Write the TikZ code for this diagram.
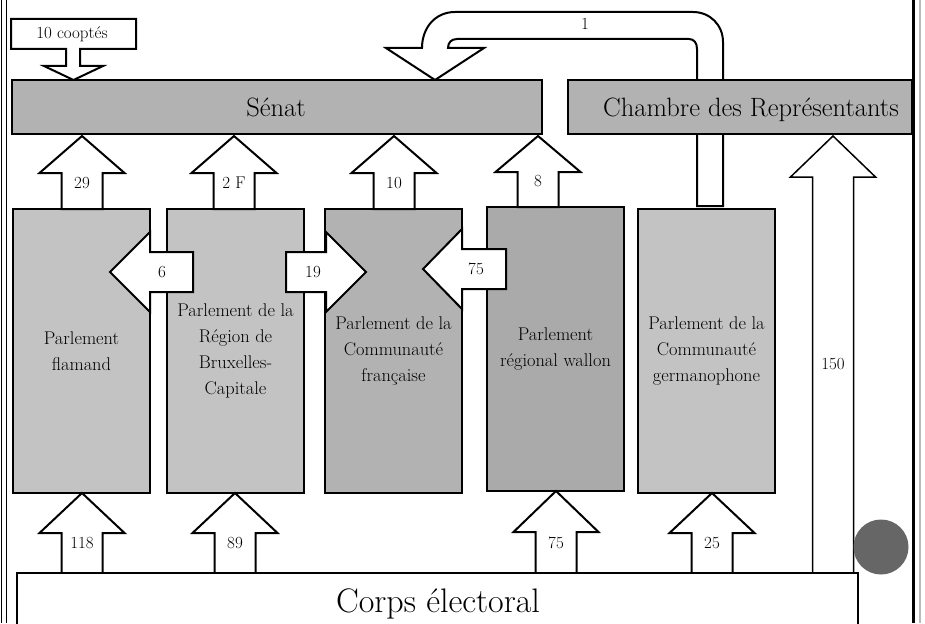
\documentclass[tikz,border=0pt]{standalone}
\usepackage{fontspec}
\definecolor{lightbox}{HTML}{C3C3C3}
\definecolor{midbox}{HTML}{B2B2B2}
\definecolor{darkbox}{HTML}{AAAAAA}
\definecolor{dotgray}{HTML}{666666}
\definecolor{framegray}{HTML}{BBBBBB}
\tikzset{
  panel/.style={draw=black, line width=2pt, inner sep=0pt, outer sep=0pt},
  parl/.style={panel, minimum width=137pt, minimum height=284pt, align=center,
    font=\fontsize{18.4}{26}\selectfont},
  house/.style={panel, minimum height=54pt, fill=midbox},
  houselbl/.style={inner sep=0pt, anchor=base, font=\fontsize{26.5}{30}\selectfont},
  blockarrow/.style={draw=black, line width=2pt, fill=white, line join=miter},
  num/.style={inner sep=0pt, font=\fontsize{17}{19}\selectfont},
}
\newcommand\UpArr[7]{% name, cx, tip y, head base y, bottom y, label, label y
  \draw[blockarrow] (#2,#3) -- (#2+42.5,#4) -- (#2+20.5,#4) -- (#2+20.5,#5)
    -- (#2-20.5,#5) -- (#2-20.5,#4) -- (#2-42.5,#4) -- cycle;
  \node[num] (#1) at (#2,#7) {#6};}
\newcommand\HorArr[7]{% name, tip x, head base x, shaft end x, cy, label, label x
  \draw[blockarrow] (#2,#5) -- (#3,#5-40) -- (#3,#5-20) -- (#4,#5-20)
    -- (#4,#5+20) -- (#3,#5+20) -- (#3,#5+40) -- cycle;
  \node[num] (#1) at (#7,#5) {#6};}
\begin{document}
\begin{tikzpicture}[x=1pt,y=-1pt]
\useasboundingbox (0,0) rectangle (925,623);
\clip (0,0) rectangle (925,623);
\fill[white] (0,0) rectangle (925,623);

% curved arrow "1" from the Chambre to the Senat
\draw[blockarrow] (697,206) -- (697,49) .. controls (697,43) and (694,39) .. (689,39)
  -- (457,39) .. controls (451,39) and (448,43) .. (448,48)
  -- (484,48) -- (435,80) -- (386,48) -- (422,48)
  .. controls (422,28) and (435,12) .. (455,12)
  -- (693,12) .. controls (710,12) and (723,25) .. (723,42) -- (723,206) -- cycle;
\node[num] (one) at (585,24) {1};

% houses
\node[house, minimum width=530pt] (senat) at (277,107) {};
\node[houselbl] (senatlbl) at (276,117) {Sénat};
\node[house, minimum width=344pt] (chambre) at (740,107) {};
\node[houselbl] (chambrelbl) at (751,117) {Chambre des Représentants};

% co-opted senators
\draw[blockarrow] (11,19) -- (136,19) -- (136,49) -- (80,49) -- (80,66) -- (103,66)
  -- (73.5,80) -- (44,66) -- (66,66) -- (66,49) -- (11,49) -- cycle;
\node[num] (coop) at (72,34) {10 cooptés};

% parliaments
\node[parl, fill=lightbox] (vl) at (81.5,351) {Parlement\\flamand};
\node[parl, fill=lightbox] (bx) at (235.5,351) {Parlement de la\\Région de\\Bruxelles-\\Capitale};
\node[parl, fill=midbox] (cf) at (393.5,351) {Parlement de la\\Communauté\\française};
\node[parl, fill=darkbox] (wa) at (555.5,349) {Parlement\\régional wallon};
\node[parl, fill=lightbox] (dg) at (706.5,351) {Parlement de la\\Communauté\\germanophone};

% arrows to the Senat
\UpArr{a29}{82}{136}{173}{209}{29}{183}
\UpArr{a2f}{234}{136}{173}{209}{2 F}{183}
\UpArr{a10}{394}{136}{173}{209}{10}{183}
\UpArr{a8}{538}{136}{172}{207}{8}{181}

% arrows between parliaments
\HorArr{a6}{110}{150}{193}{272}{6}{162}
\HorArr{a19}{366}{326}{286}{272}{19}{313}
\HorArr{a75}{423}{462}{506}{269}{75}{476}

% arrows from the electorate
\UpArr{a118}{82}{493}{533}{573}{118}{543}
\UpArr{a89}{235}{493}{533}{573}{89}{543}
\UpArr{a75b}{556}{491}{532}{573}{75}{543}
\UpArr{a25}{712}{493}{533}{573}{25}{543}
\draw[blockarrow, line width=1.5pt] (833,136) -- (875.5,177) -- (853.5,177) -- (853.5,573)
  -- (812.5,573) -- (812.5,177) -- (790.5,177) -- cycle;
\node[num] (a150) at (833,364) {150};

% electorate
\node[panel, fill=white, minimum width=841pt, minimum height=70pt] (corps) at (437.5,608) {};
\node[inner sep=0pt, anchor=base, font=\fontsize{34}{38}\selectfont] (corpslbl) at (438,612) {Corps électoral};

% decoration
\fill[dotgray] (881,547) circle (27.5);
\draw[line width=1.2pt] (1.5,0) -- (1.5,623);
\draw[line width=1.2pt] (6.5,0) -- (6.5,623);
\draw[line width=3pt] (913.5,0) -- (913.5,623);
\draw[line width=2pt, framegray] (919.5,0) -- (919.5,623);
\end{tikzpicture}
\end{document}
